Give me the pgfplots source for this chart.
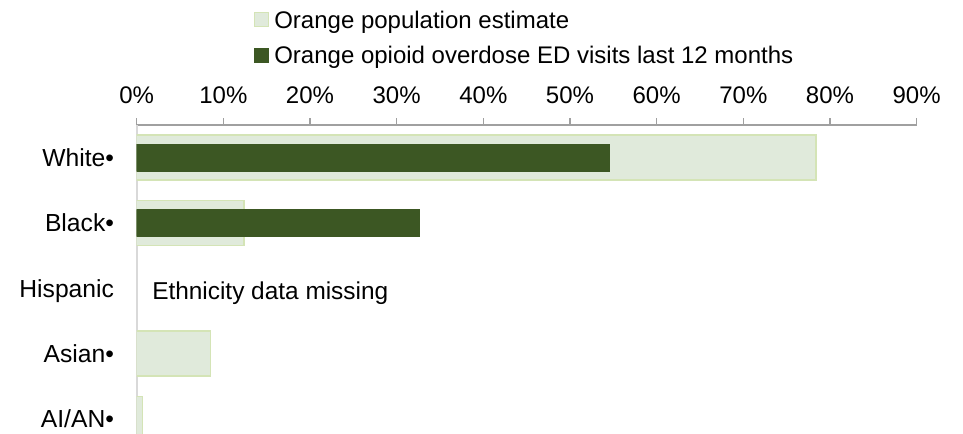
\documentclass[border=0pt]{standalone}
\usepackage{fontspec}
\setmainfont{Liberation Sans}
\usepackage{pgfplots}
\pgfplotsset{compat=1.18}
\definecolor{popfill}{HTML}{E0EADB}
\definecolor{popedge}{HTML}{D4E4B6}
\definecolor{edfill}{HTML}{3C5723}
\definecolor{xaxiscol}{HTML}{A0A0A0}
\definecolor{yaxiscol}{HTML}{D9D9D9}
\pgfplotsset{sq legend/.style={legend image code/.code={\draw[##1] (0pt,-5.25pt) rectangle (10.5pt,5.25pt);}}}
\begin{document}
\begin{tikzpicture}
\path[use as bounding box] (0,0) rectangle (722.25pt,324.75pt);
\clip (0,0) rectangle (722.25pt,324.75pt);
\begin{axis}[
  at={(102.5pt,-13.875pt)}, anchor=south west,
  scale only axis, width=585pt, height=244.9pt,
  xmin=0, xmax=90, ymin=-0.5, ymax=4.5, y dir=reverse,
  axis x line*=top, axis y line*=left,
  x axis line style={draw=xaxiscol, line width=1.1pt, -},
  y axis line style={draw=yaxiscol, line width=1.5pt, -},
  xtick={0,10,...,90},
  xticklabels={0\%,10\%,20\%,30\%,40\%,50\%,60\%,70\%,80\%,90\%},
  tick align=outside, major tick length=5pt,
  xtick style={draw=xaxiscol, line width=1.1pt},
  ytick={0,1,2,3,4},
  yticklabels={White•,Black•,Hispanic,Asian•,AI/AN•},
  ytick style={draw=none},
  tick label style={font=\fontsize{18}{21.6}\selectfont, inner sep=0pt, text height=12.9pt, text depth=0pt},
  xticklabel style={anchor=south, yshift=10.75pt},
  yticklabel style={anchor=east, xshift=-11.8pt, font=\fontsize{18.5}{22}\selectfont, text height=13.2pt},
  legend style={at={(axis description cs:0.1504,1.349)}, anchor=north west, draw=none, fill=none, inner sep=0pt, outer sep=0pt,
    font=\fontsize{18}{21.6}\selectfont, row sep=13.6pt,
    nodes={inner sep=0pt, text height=12.9pt, text depth=0pt},
    /tikz/every odd column/.style={column sep=3.75pt}},
  legend cell align=left,
]
\addplot[xbar, bar shift=0pt, bar width=0.69, fill=popfill, draw=popedge, line width=1pt, sq legend]
  coordinates {(78.4,0) (12.4,1) (8.5,3) (0.65,4)};
\addlegendentry{Orange population estimate}
\addplot[xbar, bar shift=0pt, bar width=0.41, fill=edfill, draw=edfill, line width=0.5pt, sq legend]
  coordinates {(54.5,0) (32.6,1)};
\addlegendentry{Orange opioid overdose ED visits last 12 months}
\node[anchor=west, inner sep=0pt, font=\fontsize{18.3}{22}\selectfont, text height=13.1pt, text depth=0pt] at (axis cs:1.77,2.034) {Ethnicity data missing};
\end{axis}
\end{tikzpicture}
\end{document}
